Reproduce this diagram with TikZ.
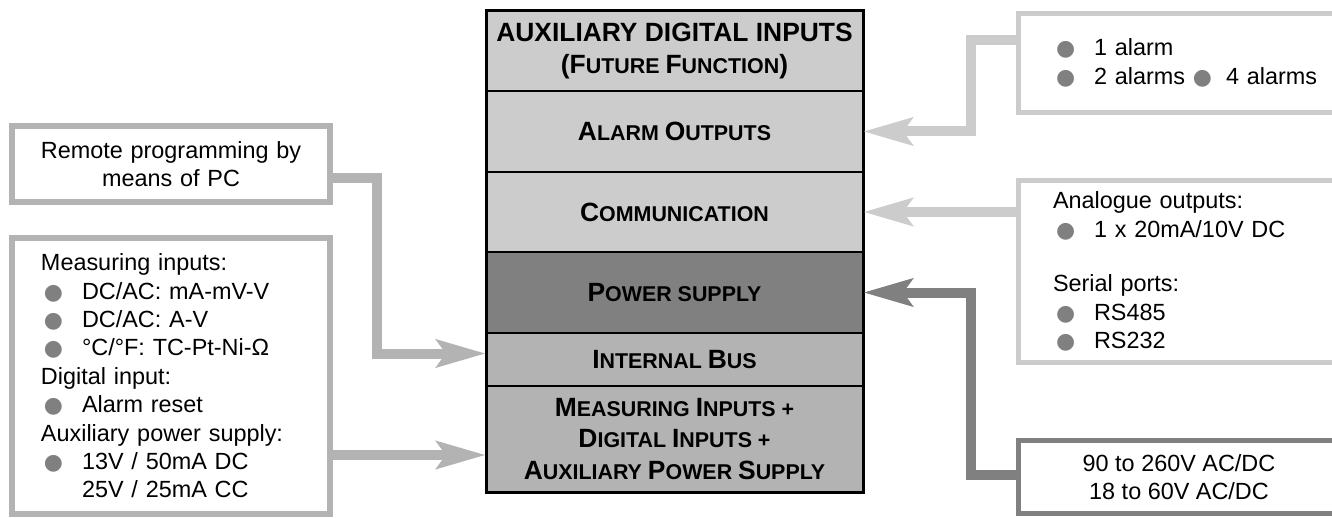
\documentclass[tikz,border=0pt]{standalone}
\usepackage{fontspec}
\setmainfont{Liberation Sans}
\newfontfamily\dotfont{DejaVu Sans}
\usetikzlibrary{arrows.meta, positioning, calc}

\definecolor{panelgray}{RGB}{204,204,204}
\definecolor{busgray}{RGB}{179,179,179}
\definecolor{supplygray}{RGB}{128,128,128}
\definecolor{dotgray}{RGB}{128,128,128}

% large letters of the small caps headings
\newcommand{\bc}[1]{{\fontsize{26.5}{30}\selectfont #1}}
% bullet and list indent
\newcommand{\bul}{\textcolor{dotgray}{\dotfont\fontsize{22}{22}\selectfont ●}}
\newcommand{\itm}{\makebox[41bp][l]{\hspace{3bp}\bul}}
\newcommand{\skp}{\makebox[41bp]{}}

\tikzset{
  row/.style={draw=black, line width=2bp, minimum width=377bp, inner sep=0pt, outer sep=0pt,
    align=center, font=\fontsize{21.5}{32}\selectfont\bfseries},
  lbox/.style={draw=busgray, line width=6bp, fill=white, minimum width=318bp,
    font=\fontsize{23.5}{28.5}\selectfont},
  rbox/.style={draw=panelgray, line width=5bp, fill=white,
    font=\fontsize{23.5}{28.5}\selectfont},
  feed/.style={line width=10bp, -{Stealth[length=49bp, width=27bp, inset=9bp]}},
}

\begin{document}
\begin{tikzpicture}[x=1bp, y=-1bp]
  \useasboundingbox (0,0) rectangle (1332,518);

  % Instrument blocks
  \node[row, fill=panelgray, minimum height=80bp] (header) at (674.5,51)
    {\bc{AUXILIARY DIGITAL INPUTS}\\\bc{(F}UTURE \bc{F}UNCTION\bc{)}};
  \node[row, fill=panelgray, minimum height=81bp] (alarm) at (674.5,131.5)
    {\bc{A}LARM \bc{O}UTPUTS};
  \node[row, fill=panelgray, minimum height=80bp] (comm) at (674.5,212)
    {\bc{C}OMMUNICATION};
  \node[row, fill=supplygray, minimum height=81bp] (power) at (674.5,292.5)
    {\bc{P}OWER SUPPLY};
  \node[row, fill=busgray, minimum height=53bp] (bus) at (674.5,359.5)
    {\bc{I}NTERNAL \bc{B}US};
  \node[row, fill=busgray, minimum height=106bp] (meas) at (674.5,439)
    {\bc{M}EASURING \bc{I}NPUTS +\\\bc{D}IGITAL \bc{I}NPUTS +\\\bc{A}UXILIARY \bc{P}OWER \bc{S}UPPLY};
  \draw[line width=3bp] (header.north west) rectangle (meas.south east);

  % Left boxes
  \node[lbox, minimum height=76bp, text width=300bp, align=center] (pcbox) at (171,164)
    {Remote programming by\\means of PC};
  \node[lbox, minimum height=276bp, text width=260bp, align=left] (inbox) at (171,376)
    {Measuring inputs:\\
     \itm DC/AC: mA-mV-V\\
     \itm DC/AC: A-V\\
     \itm °C/°F: TC-Pt-Ni-Ω\\
     Digital input:\\
     \itm Alarm reset\\
     Auxiliary power supply:\\
     \itm 13V / 50mA DC\\
     \skp 25V / 25mA CC};

  % Right boxes
  \node[rbox, minimum width=342bp, minimum height=99bp, text width=272bp, align=left] (alarmbox) at (1189,63)
    {\itm 1 alarm\\
     \itm 2 alarms \bul\hspace{14bp}4 alarms};
  \node[rbox, minimum width=342bp, minimum height=182bp, text width=272bp, align=left] (combox) at (1189,271.5)
    {Analogue outputs:\\
     \itm 1 x 20mA/10V DC\\[26bp]
     Serial ports:\\
     \itm RS485\\
     \itm RS232};
  \node[rbox, draw=supplygray, minimum width=322bp, minimum height=73bp, align=center] (pwrbox) at (1179,477)
    {90 to 260V AC/DC\\18 to 60V AC/DC};

  % Connectors
  \draw[feed, busgray] ([yshift=-14bp]pcbox.east) -| ([xshift=-109bp,yshift=6bp]bus.west) -- ([yshift=6bp]bus.west);
  \coordinate (measin) at ([yshift=-16bp]meas.west);
  \draw[feed, busgray] (inbox.east |- measin) -- (measin);
  \draw[feed, panelgray] ([yshift=23bp]alarmbox.west) -| ([xshift=108bp]alarm.east) -- (alarm.east);
  \draw[feed, panelgray] (combox.west |- comm.east) -- (comm.east);
  \draw[feed, supplygray] ([yshift=2bp]pwrbox.west) -| ([xshift=108bp]power.east) -- (power.east);
\end{tikzpicture}
\end{document}
